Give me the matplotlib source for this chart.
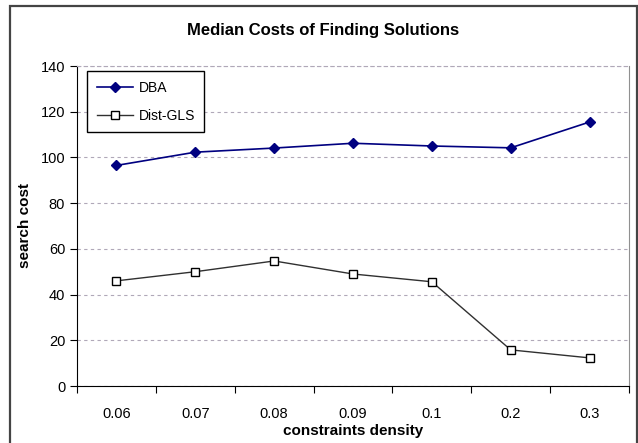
import matplotlib.pyplot as plt
from matplotlib.patches import Rectangle

categories = ["0.06", "0.07", "0.08", "0.09", "0.1", "0.2", "0.3"]
dba = [96.5, 102.3, 104.1, 106.2, 105.0, 104.2, 115.5]
dist_gls = [46.0, 50.0, 54.7, 49.0, 45.6, 15.8, 12.3]

plt.rcParams['font.family'] = ['Liberation Sans', 'DejaVu Sans']

fig = plt.figure(figsize=(6.38, 4.43), dpi=100)
fig.patches.append(Rectangle((10 / 638, -0.01), 627 / 638, 437 / 443 + 0.01,
                             transform=fig.transFigure, fill=False,
                             edgecolor='#444444', linewidth=1.6))

ax = fig.add_axes([77 / 638, 57 / 443, 552 / 638, 320 / 443])
x = list(range(len(categories)))

ax.plot(x, dba, color='#000080', lw=1.2, marker='D', markersize=5.5,
        markerfacecolor='#000080', markeredgecolor='#000080', label='DBA')
ax.plot(x, dist_gls, color='#303030', lw=1.0, marker='s', markersize=6,
        markerfacecolor='white', markeredgecolor='black', markeredgewidth=1.0,
        label='Dist-GLS')

ax.set_xlim(-0.5, len(categories) - 0.5)
ax.set_ylim(0, 140)
ax.set_yticks(range(0, 141, 20))
ax.set_xticks([i - 0.5 for i in range(len(categories) + 1)])
ax.set_xticklabels([])
ax.set_xticks(x, minor=True)
ax.set_xticklabels(categories, minor=True)
ax.tick_params(axis='x', which='minor', length=0, pad=15, labelsize=10.5)
ax.tick_params(axis='x', which='major', length=5, direction='out', color='black')
ax.tick_params(axis='y', length=5, direction='out', labelsize=10.5)

ax.grid(axis='y', linestyle=(0, (3, 3)), color='#b0a8b8', linewidth=0.8)
ax.set_axisbelow(True)

ax.spines['left'].set_color('black')
ax.spines['bottom'].set_color('black')
ax.spines['top'].set_color('#b0a8b8')
ax.spines['top'].set_linestyle((0, (3, 3)))
ax.spines['right'].set_color('#909090')

ax.set_xlabel("constraints density", fontsize=11, fontweight='bold', labelpad=2)
ax.set_ylabel("search cost", fontsize=11, fontweight='bold', labelpad=6)
fig.text(323 / 638, 1 - 31 / 443, "Median Costs of Finding Solutions",
         ha='center', va='center', fontsize=12, fontweight='bold')

leg = ax.legend(loc='upper left', bbox_to_anchor=(10 / 552, 1 - 5 / 320),
                borderaxespad=0, fancybox=False, framealpha=1, edgecolor='black',
                fontsize=10, handlelength=2.6, handletextpad=0.4,
                borderpad=0.7, labelspacing=1.0)
leg.get_frame().set_linewidth(1.0)

plt.savefig("out.png", dpi=100)
